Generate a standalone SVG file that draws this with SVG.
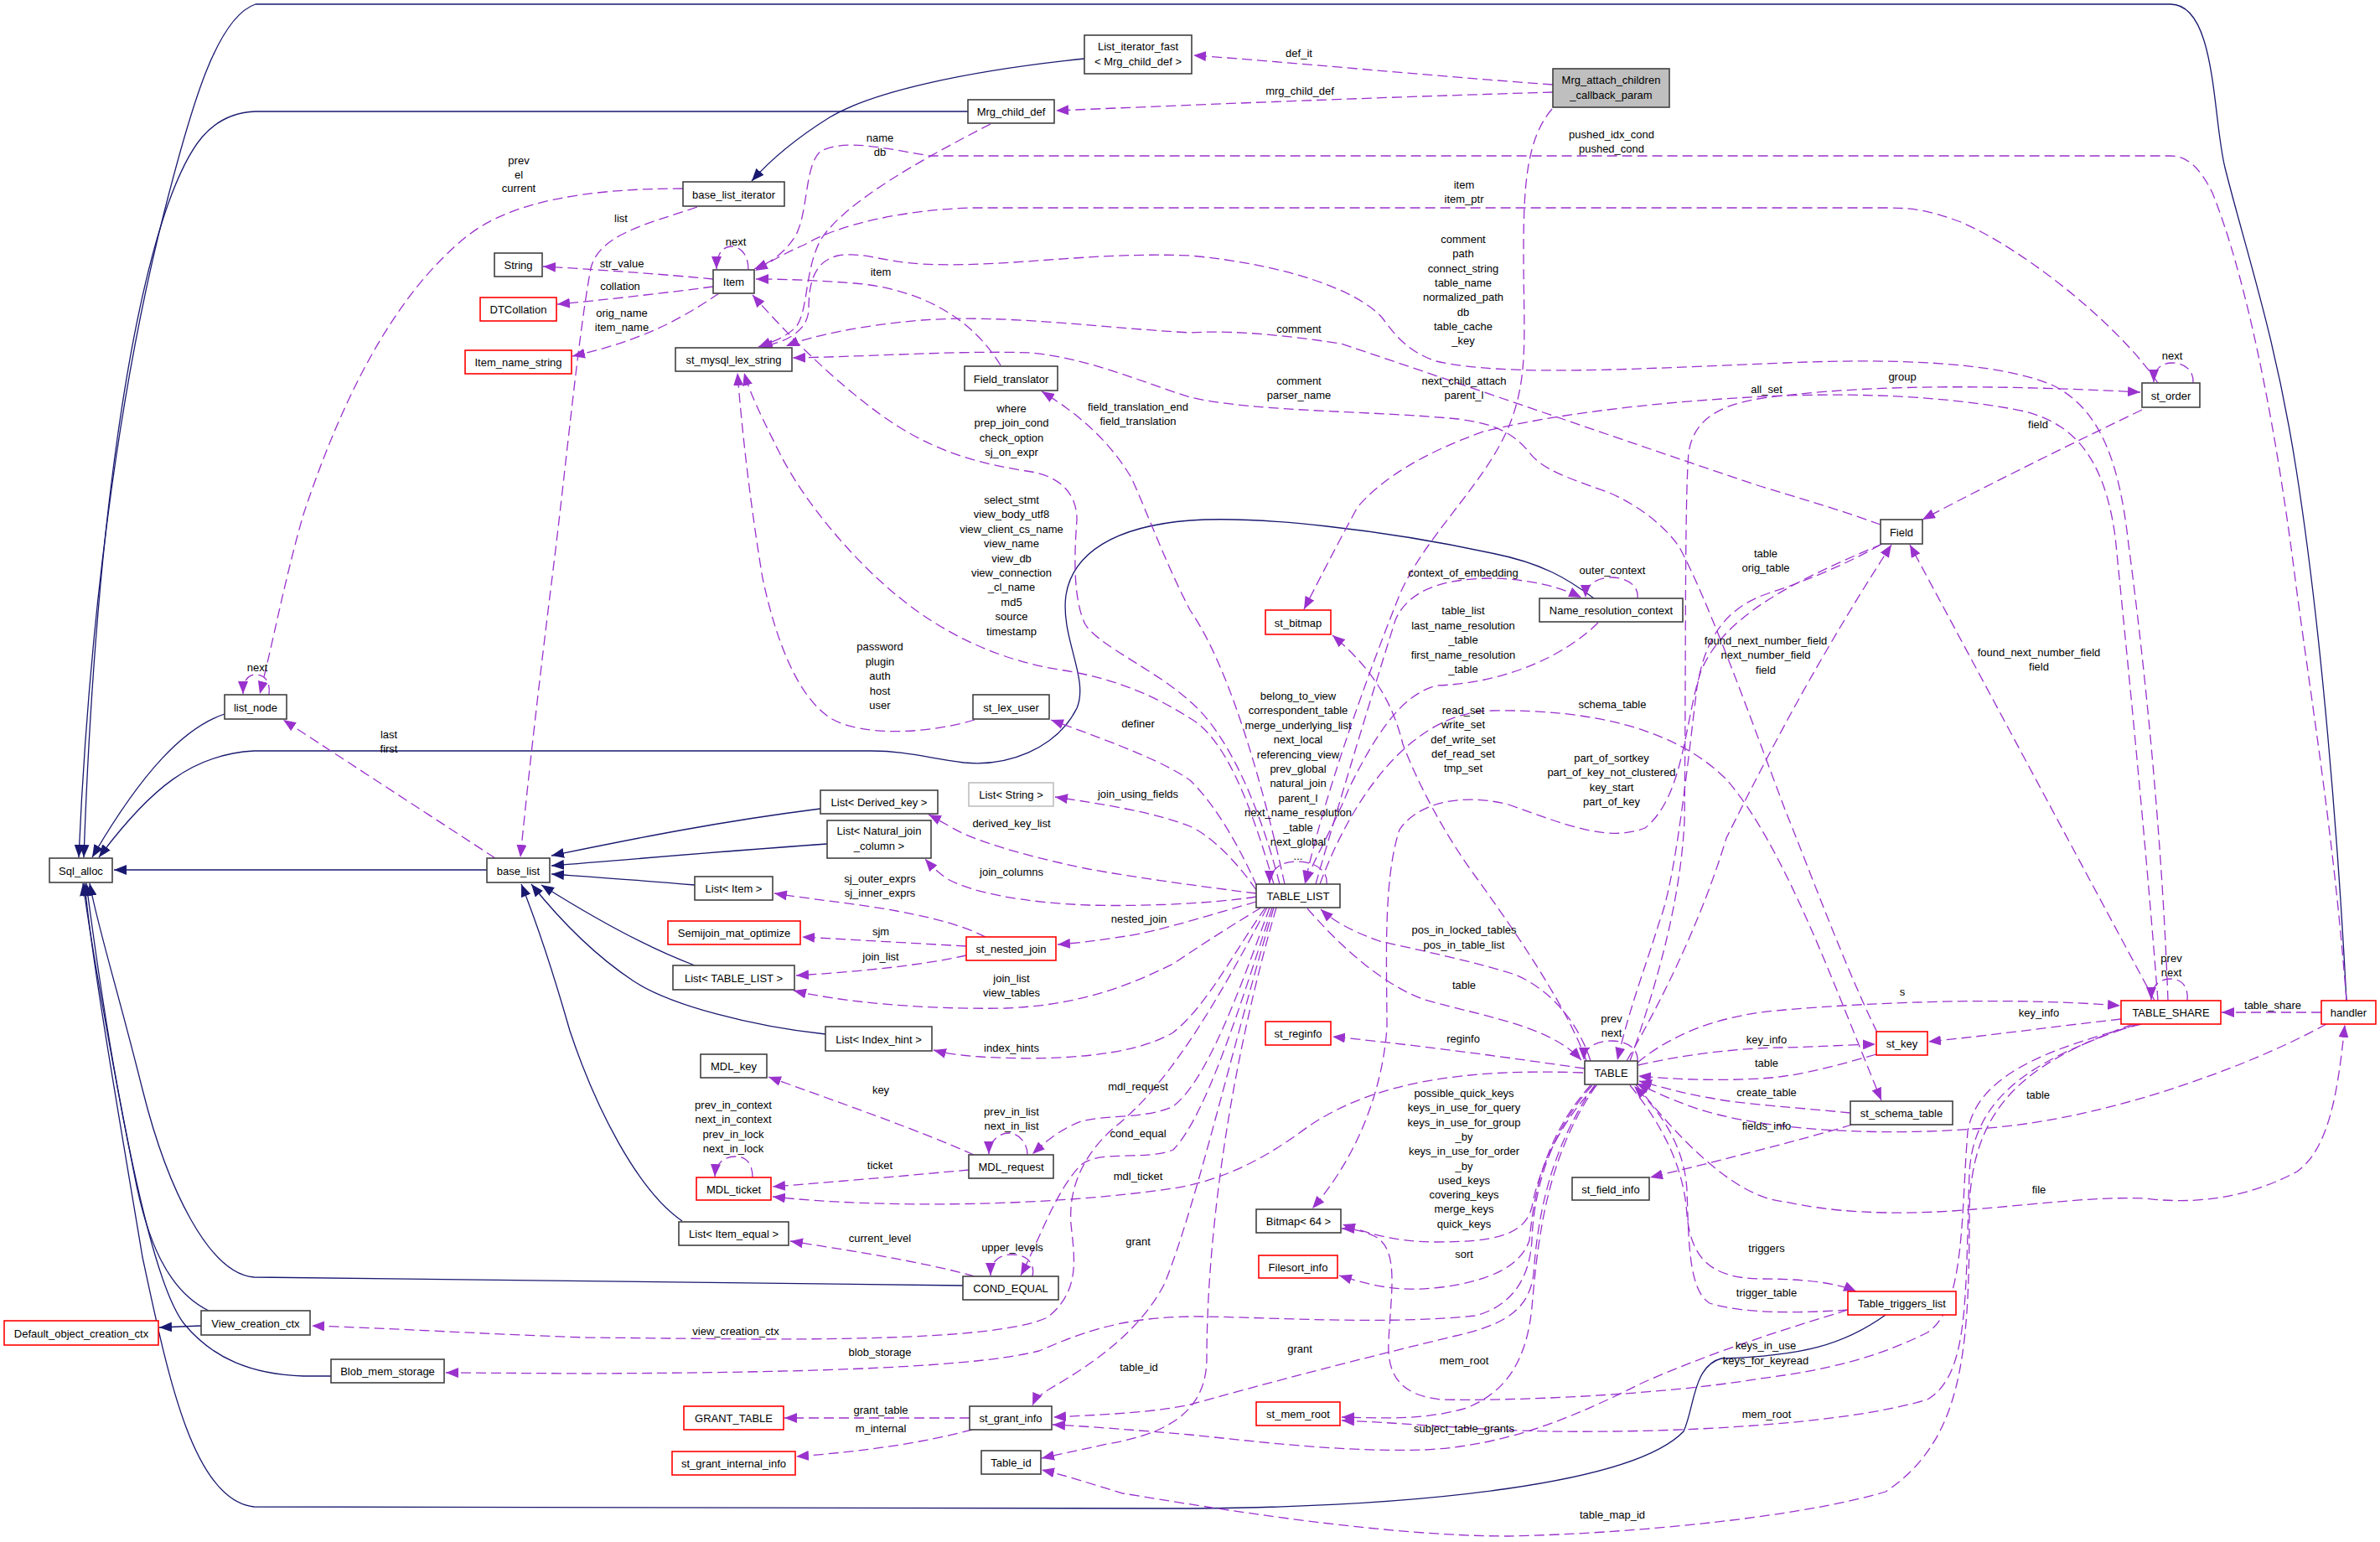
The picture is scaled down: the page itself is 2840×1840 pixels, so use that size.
<svg xmlns="http://www.w3.org/2000/svg" width="2840" height="1840" viewBox="0 0 2840 1840">
<defs>
<marker id="ap" markerUnits="userSpaceOnUse" markerWidth="15" markerHeight="12" viewBox="0 0 15 12" refX="15" refY="6" orient="auto"><path d="M0,0 L15,6 L0,12 z" fill="#9a32cd"/></marker>
<marker id="ab" markerUnits="userSpaceOnUse" markerWidth="15" markerHeight="12" viewBox="0 0 15 12" refX="15" refY="6" orient="auto"><path d="M0,0 L15,6 L0,12 z" fill="#191970"/></marker>
</defs>
<style>
text{font-family:"Liberation Sans",Arial,sans-serif;font-size:13px;text-anchor:middle;fill:#000}
.n rect{fill:#fff;stroke:#404040;stroke-width:1.6}
.r rect{stroke:#ff0000}
.g rect{stroke:#bfbfbf}
.gr rect{fill:#bfbfbf}
.e{fill:none;stroke:#9a32cd;stroke-width:1.3;stroke-dasharray:12,6;marker-end:url(#ap)}
.s{fill:none;stroke:#191970;stroke-width:1.3;marker-end:url(#ab)}
</style>
<rect width="2840" height="1840" fill="#fff"/>
<g id="connectors">
<path class="s" d="M581,1038 L136,1038"/>
<path class="s" d="M268,852 C220,868 170,920 110,1023"/>
<path class="s" d="M1902,714 C1870,690 1840,672 1780,660 C1650,632 1500,615 1420,621 C1330,628 1280,660 1272,710 C1265,760 1300,810 1285,845 C1260,895 1200,915 1150,910 C1110,905 1080,896 1040,896 L303,896 C230,900 180,940 118,1023"/>
<path class="s" d="M1155,133 L305,133 C250,135 225,175 200,245 C160,360 115,600 100,1023"/>
<path class="s" d="M2800,1194 C2790,1000 2770,750 2740,560 C2715,400 2680,300 2655,200 C2640,140 2645,5 2590,5 L305,5 C260,20 230,120 198,245 C150,430 108,700 94,1023"/>
<path class="s" d="M1294,70 C1150,85 1040,110 990,140 C950,165 920,190 897,216"/>
<path class="s" d="M249,1564 C200,1540 175,1480 160,1400 C130,1250 108,1120 99,1054"/>
<path class="s" d="M395,1642 L362,1642 C300,1640 254,1621 220,1580 C180,1530 135,1300 103,1054"/>
<path class="s" d="M1149,1534 L303,1524 C250,1520 200,1420 170,1300 C140,1180 115,1100 107,1054"/>
<path class="s" d="M2250,1569 C2200,1605 2150,1618 2054,1621 C2020,1630 2022,1680 2009,1708 C1950,1770 1700,1798 1420,1800 L303,1798 C230,1790 200,1640 170,1500 C140,1320 110,1150 101,1054"/>
<path class="s" d="M240,1582 L190,1584"/>
<path class="s" d="M979,965 C860,980 760,1000 658,1021"/>
<path class="s" d="M987,1007 C870,1015 760,1025 658,1033"/>
<path class="s" d="M829,1056 C760,1050 700,1046 658,1043"/>
<path class="s" d="M829,1152 C770,1130 700,1090 646,1056"/>
<path class="s" d="M985,1234 C900,1225 800,1200 755,1170 C710,1140 670,1100 634,1055"/>
<path class="s" d="M814,1457 C760,1420 710,1320 680,1230 C660,1160 640,1100 622,1055"/>
<path class="e" d="M1853,101 C1700,90 1550,75 1424,66"/>
<path class="e" d="M1853,110 C1650,116 1450,124 1260,132"/>
<path class="e" d="M1852,130 C1822,165 1818,220 1818,300 C1818,400 1825,450 1800,510 C1770,580 1700,640 1670,710 C1630,810 1580,950 1557,1054"/>
<path class="e" d="M1182,148 C1100,190 1010,240 980,285 C960,320 965,370 950,390 C935,405 915,410 905,414"/>
<path class="e" d="M2800,1194 C2785,1000 2760,850 2740,700 C2715,500 2680,330 2640,230 C2625,200 2610,186 2590,186 L1110,186 C1060,178 1010,165 980,180 C960,195 965,250 950,280 C935,305 915,315 900,321"/>
<path class="e" d="M2575,457 C2530,390 2420,300 2340,265 C2300,250 2280,248 2250,248 L1160,248 C1080,250 1000,268 960,292 C930,305 915,315 901,323"/>
<path class="e" d="M893,322 C893,300 880,294 873,294 C863,294 855,302 855,321"/>
<path class="e" d="M851,333 C800,328 720,322 648,318"/>
<path class="e" d="M851,342 C790,350 720,358 665,363"/>
<path class="e" d="M858,350 C800,390 750,410 683,425"/>
<path class="e" d="M815,225 C700,225 610,240 557,282 C460,360 400,500 362,614 C340,690 325,770 310,828"/>
<path class="e" d="M832,247 C770,268 715,280 705,320 C690,400 675,560 660,680 C645,800 630,930 621,1023"/>
<path class="e" d="M321,829 C323,812 315,805 305,805 C296,805 290,812 290,828"/>
<path class="e" d="M591,1024 L338,859"/>
<path class="e" d="M1194,436 C1160,380 1100,345 1020,338 C970,334 930,333 902,333"/>
<path class="e" d="M1527,1055 C1500,950 1460,870 1420,837 C1380,800 1310,770 1295,745 C1280,715 1282,660 1285,620 C1285,585 1260,568 1231,563 C1180,555 1130,545 1072,509 C1010,470 940,400 898,352"/>
<path class="e" d="M1520,1055 C1490,950 1460,880 1420,857 C1370,825 1320,808 1270,800 C1200,790 1130,760 1072,712 C1020,670 960,600 930,540 C910,500 895,470 888,445"/>
<path class="e" d="M1163,859 C1110,875 1030,880 991,857 C950,830 925,760 910,690 C895,600 885,510 880,445"/>
<path class="e" d="M2587,1194 C2580,1000 2560,800 2540,650 C2530,560 2510,490 2450,460 C2380,430 2250,428 2130,433 C1950,440 1800,450 1714,431 C1680,420 1665,400 1650,380 C1620,345 1530,315 1420,305 C1300,300 1200,320 1100,315 C1050,312 1030,300 1000,305 C970,312 965,340 965,370 C963,395 940,408 907,414"/>
<path class="e" d="M2244,626 C2200,610 2150,595 2100,580 C1950,530 1750,460 1600,410 C1500,395 1450,395 1420,397 C1300,390 1200,375 1100,382 C1030,388 970,400 938,413"/>
<path class="e" d="M2240,1232 C2200,1150 2160,1040 2130,966 C2090,860 2040,720 2004,653 C1985,625 1950,600 1918,587 C1870,570 1840,560 1825,540 C1805,515 1780,505 1740,500 C1640,490 1500,492 1420,474 C1360,455 1300,428 1231,421 C1150,418 1050,425 946,427"/>
<path class="e" d="M1533,1055 C1510,950 1470,800 1420,728 C1390,670 1370,614 1350,570 C1320,520 1280,490 1243,467"/>
<path class="e" d="M1500,1058 C1470,990 1440,950 1420,931 C1390,910 1340,890 1254,859"/>
<path class="e" d="M1499,1062 C1470,1020 1440,995 1420,986 C1380,970 1320,960 1259,951"/>
<path class="e" d="M1499,1066 C1450,1060 1360,1048 1299,1037 C1240,1025 1185,1010 1150,995 C1130,985 1120,978 1108,972"/>
<path class="e" d="M1499,1070 C1450,1078 1360,1082 1299,1080 C1220,1077 1160,1065 1131,1049 C1118,1040 1110,1032 1104,1025"/>
<path class="e" d="M1499,1076 C1450,1090 1380,1112 1344,1117 C1310,1122 1290,1125 1262,1127"/>
<path class="e" d="M1176,1118 C1150,1105 1118,1096 1070,1087 C1020,1078 960,1072 924,1066"/>
<path class="e" d="M1153,1129 L957,1118"/>
<path class="e" d="M1153,1140 C1100,1152 1020,1160 950,1164"/>
<path class="e" d="M1505,1083 C1460,1110 1430,1130 1400,1150 C1340,1180 1280,1200 1200,1203 C1100,1205 1000,1195 947,1182"/>
<path class="e" d="M1510,1083 C1470,1140 1440,1200 1400,1232 C1350,1262 1250,1266 1170,1261 C1140,1259 1125,1256 1114,1253"/>
<path class="e" d="M1515,1083 C1480,1180 1440,1290 1400,1320 C1370,1335 1320,1330 1290,1338 C1260,1350 1245,1365 1232,1377"/>
<path class="e" d="M1226,1378 C1226,1362 1214,1352 1204,1352 C1192,1352 1180,1362 1180,1377"/>
<path class="e" d="M1162,1378 C1100,1350 1000,1315 917,1285"/>
<path class="e" d="M1156,1396 C1080,1403 1000,1410 922,1416"/>
<path class="e" d="M1889,1280 C1750,1275 1640,1290 1560,1345 C1500,1390 1450,1410 1400,1418 C1250,1440 1050,1442 922,1428"/>
<path class="e" d="M898,1405 C898,1388 890,1380 878,1380 C864,1380 854,1388 853,1404"/>
<path class="e" d="M1518,1083 C1480,1200 1440,1330 1400,1372 C1370,1385 1310,1372 1290,1390 C1260,1420 1240,1480 1218,1522"/>
<path class="e" d="M1232,1523 C1236,1505 1222,1497 1208,1497 C1192,1497 1182,1505 1182,1522"/>
<path class="e" d="M1163,1523 C1100,1505 1000,1490 943,1481"/>
<path class="e" d="M1512,1083 C1460,1180 1400,1290 1330,1345 C1290,1380 1275,1420 1278,1461 C1282,1500 1290,1540 1250,1572 C1200,1595 1050,1598 900,1598 L700,1596 C580,1592 470,1585 372,1582"/>
<path class="e" d="M1900,1295 C1850,1350 1830,1420 1828,1480 C1825,1530 1800,1560 1760,1570 C1650,1582 1480,1570 1420,1571 C1330,1572 1280,1595 1240,1612 C1150,1635 900,1638 700,1639 L532,1638"/>
<path class="e" d="M1903,1295 C1850,1370 1835,1450 1830,1520 C1825,1560 1800,1580 1737,1594 C1650,1615 1550,1640 1420,1676 C1380,1685 1320,1688 1257,1691"/>
<path class="e" d="M1905,1295 C1845,1380 1835,1480 1828,1560 C1822,1620 1800,1660 1750,1680 C1700,1695 1650,1692 1601,1691"/>
<path class="e" d="M1898,1295 C1840,1360 1830,1430 1825,1480 C1815,1510 1780,1528 1720,1536 C1670,1542 1640,1535 1598,1522"/>
<path class="e" d="M1905,1295 C1860,1340 1835,1400 1828,1440 C1820,1475 1780,1482 1714,1482 C1660,1482 1630,1470 1602,1461"/>
<path class="e" d="M1891,1275 C1800,1262 1700,1248 1590,1237"/>
<path class="e" d="M1898,1266 C1880,1210 1840,1175 1805,1162 C1760,1148 1700,1135 1646,1123 C1610,1110 1590,1098 1576,1085"/>
<path class="e" d="M1560,1084 C1600,1130 1650,1175 1700,1193 C1780,1215 1850,1225 1887,1265"/>
<path class="e" d="M1954,1266 C1955,1250 1940,1242 1923,1242 C1905,1242 1890,1250 1890,1265"/>
<path class="e" d="M1893,1266 C1870,1200 1800,1100 1760,1045 C1720,990 1690,930 1674,888 C1662,840 1640,800 1590,758"/>
<path class="e" d="M1575,1055 C1610,960 1680,850 1780,848 C1900,846 2000,870 2060,930 C2130,1010 2190,1180 2245,1313"/>
<path class="e" d="M1570,1055 C1600,950 1640,820 1665,740 C1680,705 1720,690 1782,690 C1830,692 1860,700 1887,713"/>
<path class="e" d="M1907,743 C1870,780 1800,815 1714,818 C1670,830 1640,880 1610,940 C1590,990 1565,1030 1558,1054"/>
<path class="e" d="M1954,714 C1956,698 1940,689 1923,689 C1905,689 1892,698 1892,713"/>
<path class="e" d="M1583,1055 C1585,1036 1565,1028 1548,1028 C1530,1028 1515,1036 1515,1054"/>
<path class="e" d="M2575,1194 C2560,1000 2540,800 2524,640 C2510,540 2470,500 2402,488 C2300,470 2200,470 2130,472 C1980,478 1850,495 1770,515 C1700,540 1650,570 1620,605 C1590,660 1570,700 1556,727"/>
<path class="e" d="M1945,1266 C1975,1180 2005,1080 2010,980 C2012,800 2010,600 2015,540 C2022,495 2060,478 2130,472 C2250,458 2400,460 2554,468"/>
<path class="e" d="M2617,457 C2618,440 2605,433 2592,433 C2580,433 2570,440 2570,456"/>
<path class="e" d="M2556,489 C2450,540 2350,590 2294,620"/>
<path class="e" d="M2244,650 C2200,675 2150,695 2110,708 C2060,725 2035,760 2025,820 C2015,900 2000,1050 1980,1100 C1965,1150 1945,1200 1930,1265"/>
<path class="e" d="M1941,1266 C1980,1200 2030,1100 2060,1000 C2100,920 2160,800 2257,650"/>
<path class="e" d="M2571,1194 L2279,650"/>
<path class="e" d="M2610,1194 C2612,1176 2602,1168 2590,1168 C2577,1168 2567,1176 2567,1193"/>
<path class="e" d="M2770,1208 L2651,1208"/>
<path class="e" d="M1954,1268 C2000,1230 2060,1210 2130,1205 C2250,1195 2400,1190 2530,1200"/>
<path class="e" d="M1955,1271 C2010,1258 2080,1250 2130,1250 C2170,1249 2200,1247 2238,1246"/>
<path class="e" d="M2531,1216 C2450,1225 2380,1235 2301,1243"/>
<path class="e" d="M2239,1258 C2180,1275 2140,1285 2100,1287 C2050,1290 2000,1288 1955,1284"/>
<path class="e" d="M2208,1328 C2150,1322 2080,1318 2040,1310 C2010,1305 1985,1298 1956,1290"/>
<path class="e" d="M2210,1342 C2150,1360 2060,1383 1969,1405"/>
<path class="e" d="M2776,1222 C2680,1275 2500,1340 2356,1347 C2250,1355 2130,1350 2050,1330 C2010,1320 1980,1305 1953,1293"/>
<path class="e" d="M1952,1294 C2020,1380 2080,1430 2130,1434 C2180,1445 2250,1452 2356,1443 C2450,1435 2500,1428 2560,1430 C2640,1440 2700,1420 2741,1398 C2780,1370 2790,1300 2798,1223"/>
<path class="e" d="M1945,1295 C1990,1350 2010,1400 2013,1450 C2018,1500 2040,1525 2100,1526 C2150,1526 2190,1530 2215,1541"/>
<path class="e" d="M2205,1563 C2150,1567 2080,1568 2040,1555 C2015,1540 2015,1480 2013,1420 C2010,1370 1985,1330 1950,1296"/>
<path class="e" d="M2205,1563 C2150,1580 2050,1610 1960,1650 C1880,1690 1800,1725 1700,1730 C1600,1733 1500,1720 1420,1712 C1360,1707 1300,1702 1256,1700"/>
<path class="e" d="M2555,1222 C2450,1250 2360,1280 2348,1350 C2340,1450 2345,1560 2300,1590 C2240,1620 2180,1635 2100,1645 C1980,1665 1800,1672 1720,1670 C1670,1665 1655,1640 1657,1600 C1660,1540 1670,1490 1640,1475 C1625,1468 1612,1466 1601,1466"/>
<path class="e" d="M2550,1222 C2440,1260 2355,1300 2350,1400 C2345,1550 2350,1640 2300,1670 C2200,1700 2000,1710 1850,1708 C1750,1706 1680,1698 1601,1695"/>
<path class="e" d="M2545,1222 C2430,1265 2350,1310 2350,1450 C2350,1620 2340,1720 2250,1780 C2150,1810 1950,1830 1800,1833 C1650,1833 1450,1800 1340,1782 C1300,1770 1270,1760 1243,1754"/>
<path class="e" d="M2246,649 C2150,690 2060,730 2030,800 C2010,860 2010,950 1963,988 C1920,1005 1870,985 1800,960 C1740,945 1690,960 1670,990 C1650,1050 1655,1150 1655,1226 C1650,1300 1620,1380 1566,1442"/>
<path class="e" d="M1520,1083 C1470,1250 1430,1430 1390,1531 C1360,1590 1300,1630 1253,1657 C1240,1665 1235,1670 1232,1677"/>
<path class="e" d="M1523,1083 C1460,1300 1440,1500 1440,1620 C1440,1680 1400,1710 1321,1723 C1290,1730 1265,1735 1243,1740"/>
<path class="e" d="M1157,1692 L936,1692"/>
<path class="e" d="M1160,1706 C1100,1722 1030,1732 950,1738"/>
<g id="edge-labels">
<text x="1550" y="68">def_it</text>
<text x="1551" y="113">mrg_child_def</text>
<text x="1923" y="165"><tspan x="1923">pushed_idx_cond</tspan><tspan x="1923" dy="17.3">pushed_cond</tspan></text>
<text x="1050" y="169"><tspan x="1050">name</tspan><tspan x="1050" dy="17.3">db</tspan></text>
<text x="1747" y="225"><tspan x="1747">item</tspan><tspan x="1747" dy="17.3">item_ptr</tspan></text>
<text x="619" y="196"><tspan x="619">prev</tspan><tspan x="619" dy="16.5">el</tspan><tspan x="619" dy="16.5">current</tspan></text>
<text x="741" y="265">list</text>
<text x="1746" y="290"><tspan x="1746">comment</tspan><tspan x="1746" dy="17.3">path</tspan><tspan x="1746" dy="17.3">connect_string</tspan><tspan x="1746" dy="17.3">table_name</tspan><tspan x="1746" dy="17.3">normalized_path</tspan><tspan x="1746" dy="17.3">db</tspan><tspan x="1746" dy="17.3">table_cache</tspan><tspan x="1746" dy="17.3">_key</tspan></text>
<text x="878" y="293">next</text>
<text x="742" y="319">str_value</text>
<text x="1051" y="329">item</text>
<text x="740" y="346">collation</text>
<text x="742" y="378"><tspan x="742">orig_name</tspan><tspan x="742" dy="17.3">item_name</tspan></text>
<text x="1550" y="397">comment</text>
<text x="2592" y="429">next</text>
<text x="2270" y="454">group</text>
<text x="1550" y="459"><tspan x="1550">comment</tspan><tspan x="1550" dy="17.3">parser_name</tspan></text>
<text x="1747" y="459"><tspan x="1747">next_child_attach</tspan><tspan x="1747" dy="17.3">parent_l</tspan></text>
<text x="2108" y="469">all_set</text>
<text x="1207" y="492"><tspan x="1207">where</tspan><tspan x="1207" dy="17.3">prep_join_cond</tspan><tspan x="1207" dy="17.3">check_option</tspan><tspan x="1207" dy="17.3">sj_on_expr</tspan></text>
<text x="1358" y="490"><tspan x="1358">field_translation_end</tspan><tspan x="1358" dy="17.3">field_translation</tspan></text>
<text x="2432" y="511">field</text>
<text x="1207" y="601"><tspan x="1207">select_stmt</tspan><tspan x="1207" dy="17.4">view_body_utf8</tspan><tspan x="1207" dy="17.4">view_client_cs_name</tspan><tspan x="1207" dy="17.4">view_name</tspan><tspan x="1207" dy="17.4">view_db</tspan><tspan x="1207" dy="17.4">view_connection</tspan><tspan x="1207" dy="17.4">_cl_name</tspan><tspan x="1207" dy="17.4">md5</tspan><tspan x="1207" dy="17.4">source</tspan><tspan x="1207" dy="17.4">timestamp</tspan></text>
<text x="2107" y="665"><tspan x="2107">table</tspan><tspan x="2107" dy="17.3">orig_table</tspan></text>
<text x="1746" y="688">context_of_embedding</text>
<text x="1924" y="685">outer_context</text>
<text x="1746" y="733"><tspan x="1746">table_list</tspan><tspan x="1746" dy="17.5">last_name_resolution</tspan><tspan x="1746" dy="17.5">_table</tspan><tspan x="1746" dy="17.5">first_name_resolution</tspan><tspan x="1746" dy="17.5">_table</tspan></text>
<text x="2107" y="769"><tspan x="2107">found_next_number_field</tspan><tspan x="2107" dy="17.3">next_number_field</tspan><tspan x="2107" dy="17.3">field</tspan></text>
<text x="1050" y="776"><tspan x="1050">password</tspan><tspan x="1050" dy="17.5">plugin</tspan><tspan x="1050" dy="17.5">auth</tspan><tspan x="1050" dy="17.5">host</tspan><tspan x="1050" dy="17.5">user</tspan></text>
<text x="2433" y="783"><tspan x="2433">found_next_number_field</tspan><tspan x="2433" dy="17.3">field</tspan></text>
<text x="1549" y="835"><tspan x="1549">belong_to_view</tspan><tspan x="1549" dy="17.4">correspondent_table</tspan><tspan x="1549" dy="17.4">merge_underlying_list</tspan><tspan x="1549" dy="17.4">next_local</tspan><tspan x="1549" dy="17.4">referencing_view</tspan><tspan x="1549" dy="17.4">prev_global</tspan><tspan x="1549" dy="17.4">natural_join</tspan><tspan x="1549" dy="17.4">parent_l</tspan><tspan x="1549" dy="17.4">next_name_resolution</tspan><tspan x="1549" dy="17.4">_table</tspan><tspan x="1549" dy="17.4">next_global</tspan><tspan x="1549" dy="17.4">...</tspan></text>
<text x="1924" y="845">schema_table</text>
<text x="1746" y="852"><tspan x="1746">read_set</tspan><tspan x="1746" dy="17.3">write_set</tspan><tspan x="1746" dy="17.3">def_write_set</tspan><tspan x="1746" dy="17.3">def_read_set</tspan><tspan x="1746" dy="17.3">tmp_set</tspan></text>
<text x="1358" y="868">definer</text>
<text x="464" y="881"><tspan x="464">last</tspan><tspan x="464" dy="16.5">first</tspan></text>
<text x="307" y="801">next</text>
<text x="1923" y="909"><tspan x="1923">part_of_sortkey</tspan><tspan x="1923" dy="17.3">part_of_key_not_clustered</tspan><tspan x="1923" dy="17.3">key_start</tspan><tspan x="1923" dy="17.3">part_of_key</tspan></text>
<text x="1358" y="952">join_using_fields</text>
<text x="1207" y="987">derived_key_list</text>
<text x="1207" y="1045">join_columns</text>
<text x="1050" y="1053"><tspan x="1050">sj_outer_exprs</tspan><tspan x="1050" dy="17.3">sj_inner_exprs</tspan></text>
<text x="1359" y="1101">nested_join</text>
<text x="1747" y="1114"><tspan x="1747">pos_in_locked_tables</tspan><tspan x="1747" dy="17.5">pos_in_table_list</tspan></text>
<text x="1051" y="1116">sjm</text>
<text x="1051" y="1146">join_list</text>
<text x="2591" y="1148"><tspan x="2591">prev</tspan><tspan x="2591" dy="16.5">next</tspan></text>
<text x="1207" y="1172"><tspan x="1207">join_list</tspan><tspan x="1207" dy="17.3">view_tables</tspan></text>
<text x="1747" y="1180">table</text>
<text x="2270" y="1188">s</text>
<text x="2712" y="1204">table_share</text>
<text x="2433" y="1213">key_info</text>
<text x="1923" y="1220"><tspan x="1923">prev</tspan><tspan x="1923" dy="17">next</tspan></text>
<text x="1746" y="1244">reginfo</text>
<text x="2108" y="1245">key_info</text>
<text x="1207" y="1255">index_hints</text>
<text x="2108" y="1273">table</text>
<text x="1358" y="1301">mdl_request</text>
<text x="1051" y="1305">key</text>
<text x="2108" y="1308">create_table</text>
<text x="1747" y="1309"><tspan x="1747">possible_quick_keys</tspan><tspan x="1747" dy="17.3">keys_in_use_for_query</tspan><tspan x="1747" dy="17.3">keys_in_use_for_group</tspan><tspan x="1747" dy="17.3">_by</tspan><tspan x="1747" dy="17.3">keys_in_use_for_order</tspan><tspan x="1747" dy="17.3">_by</tspan><tspan x="1747" dy="17.3">used_keys</tspan><tspan x="1747" dy="17.3">covering_keys</tspan><tspan x="1747" dy="17.3">merge_keys</tspan><tspan x="1747" dy="17.3">quick_keys</tspan></text>
<text x="2432" y="1311">table</text>
<text x="1207" y="1331"><tspan x="1207">prev_in_list</tspan><tspan x="1207" dy="17.3">next_in_list</tspan></text>
<text x="875" y="1323"><tspan x="875">prev_in_context</tspan><tspan x="875" dy="17.3">next_in_context</tspan><tspan x="875" dy="17.3">prev_in_lock</tspan><tspan x="875" dy="17.3">next_in_lock</tspan></text>
<text x="2108" y="1348">fields_info</text>
<text x="1358" y="1357">cond_equal</text>
<text x="1050" y="1395">ticket</text>
<text x="1358" y="1408">mdl_ticket</text>
<text x="2433" y="1424">file</text>
<text x="1050" y="1482">current_level</text>
<text x="1358" y="1486">grant</text>
<text x="1208" y="1493">upper_levels</text>
<text x="2108" y="1494">triggers</text>
<text x="1747" y="1501">sort</text>
<text x="2108" y="1547">trigger_table</text>
<text x="878" y="1593">view_creation_ctx</text>
<text x="2107" y="1610"><tspan x="2107">keys_in_use</tspan><tspan x="2107" dy="17.5">keys_for_keyread</tspan></text>
<text x="1551" y="1614">grant</text>
<text x="1050" y="1618">blob_storage</text>
<text x="1747" y="1628">mem_root</text>
<text x="1359" y="1636">table_id</text>
<text x="1051" y="1687">grant_table</text>
<text x="2108" y="1692">mem_root</text>
<text x="1051" y="1709">m_internal</text>
<text x="1747" y="1709">subject_table_grants</text>
<text x="1924" y="1812">table_map_id</text>
</g>
</g>
<g id="node-Mrg_attach_children_callback_param" class="n gr"><rect x="1853" y="82" width="139" height="46"/><text x="1922.5" y="100">Mrg_attach_children</text><text x="1922.5" y="118">_callback_param</text></g>
<g id="node-List_iterator_fast" class="n"><rect x="1294" y="42" width="128" height="46"/><text x="1358" y="60">List_iterator_fast</text><text x="1358" y="78">&lt; Mrg_child_def &gt;</text></g>
<g id="node-Mrg_child_def" class="n"><rect x="1155" y="119" width="103" height="28"/><text x="1206.5" y="138">Mrg_child_def</text></g>
<g id="node-base_list_iterator" class="n"><rect x="815" y="217" width="121" height="29"/><text x="875.5" y="236.5">base_list_iterator</text></g>
<g id="node-Item" class="n"><rect x="851" y="322" width="49" height="28"/><text x="875.5" y="341">Item</text></g>
<g id="node-String" class="n"><rect x="590" y="302" width="57" height="28"/><text x="618.5" y="321">String</text></g>
<g id="node-DTCollation" class="n r"><rect x="573" y="355" width="91" height="28"/><text x="618.5" y="374">DTCollation</text></g>
<g id="node-Item_name_string" class="n r"><rect x="555" y="418" width="127" height="28"/><text x="618.5" y="437">Item_name_string</text></g>
<g id="node-st_mysql_lex_string" class="n"><rect x="806" y="415" width="139" height="28"/><text x="875.5" y="434">st_mysql_lex_string</text></g>
<g id="node-Field_translator" class="n"><rect x="1151" y="437" width="111" height="29"/><text x="1206.5" y="456.5">Field_translator</text></g>
<g id="node-st_order" class="n"><rect x="2556" y="457" width="69" height="29"/><text x="2590.5" y="476.5">st_order</text></g>
<g id="node-list_node" class="n"><rect x="268" y="829" width="74" height="29"/><text x="305" y="848.5">list_node</text></g>
<g id="node-Sql_alloc" class="n"><rect x="59" y="1024" width="75" height="29"/><text x="96.5" y="1043.5">Sql_alloc</text></g>
<g id="node-base_list" class="n"><rect x="581" y="1024" width="75" height="29"/><text x="618.5" y="1043.5">base_list</text></g>
<g id="node-st_lex_user" class="n"><rect x="1161" y="829" width="91" height="29"/><text x="1206.5" y="848.5">st_lex_user</text></g>
<g id="node-List_Derived_key" class="n"><rect x="979" y="943" width="140" height="28"/><text x="1049" y="962">List&lt; Derived_key &gt;</text></g>
<g id="node-List_Natural_join_column" class="n"><rect x="987" y="979" width="124" height="45"/><text x="1049" y="996">List&lt; Natural_join</text><text x="1049" y="1014">_column &gt;</text></g>
<g id="node-List_String" class="n g"><rect x="1156" y="934" width="101" height="28"/><text x="1206.5" y="953">List&lt; String &gt;</text></g>
<g id="node-List_Item" class="n"><rect x="829" y="1046" width="93" height="28"/><text x="875.5" y="1065">List&lt; Item &gt;</text></g>
<g id="node-Semijoin_mat_optimize" class="n r"><rect x="797" y="1099" width="158" height="28"/><text x="876" y="1118">Semijoin_mat_optimize</text></g>
<g id="node-st_nested_join" class="n r"><rect x="1153" y="1118" width="107" height="28"/><text x="1206.5" y="1137">st_nested_join</text></g>
<g id="node-List_TABLE_LIST" class="n"><rect x="803" y="1152" width="145" height="29"/><text x="875.5" y="1171.5">List&lt; TABLE_LIST &gt;</text></g>
<g id="node-st_bitmap" class="n r"><rect x="1510" y="728" width="78" height="29"/><text x="1549" y="747.5">st_bitmap</text></g>
<g id="node-Name_resolution_context" class="n"><rect x="1837" y="714" width="171" height="28"/><text x="1922.5" y="733">Name_resolution_context</text></g>
<g id="node-TABLE_LIST" class="n"><rect x="1499" y="1055" width="100" height="28"/><text x="1549" y="1074">TABLE_LIST</text></g>
<g id="node-Field" class="n"><rect x="2244" y="620" width="50" height="29"/><text x="2269" y="639.5">Field</text></g>
<g id="node-TABLE_SHARE" class="n r"><rect x="2531" y="1194" width="119" height="28"/><text x="2590.5" y="1213">TABLE_SHARE</text></g>
<g id="node-handler" class="n r"><rect x="2770" y="1194" width="65" height="28"/><text x="2802.5" y="1213">handler</text></g>
<g id="node-Default_object_creation_ctx" class="n r"><rect x="5" y="1576" width="184" height="29"/><text x="97" y="1595.5">Default_object_creation_ctx</text></g>
<g id="node-View_creation_ctx" class="n"><rect x="240" y="1564" width="130" height="29"/><text x="305" y="1583.5">View_creation_ctx</text></g>
<g id="node-Blob_mem_storage" class="n"><rect x="395" y="1622" width="135" height="28"/><text x="462.5" y="1641">Blob_mem_storage</text></g>
<g id="node-List_Index_hint" class="n"><rect x="985" y="1225" width="127" height="29"/><text x="1048.5" y="1244.5">List&lt; Index_hint &gt;</text></g>
<g id="node-MDL_key" class="n"><rect x="836" y="1258" width="79" height="28"/><text x="875.5" y="1277">MDL_key</text></g>
<g id="node-MDL_ticket" class="n r"><rect x="831" y="1405" width="89" height="27"/><text x="875.5" y="1423.5">MDL_ticket</text></g>
<g id="node-MDL_request" class="n"><rect x="1156" y="1378" width="101" height="28"/><text x="1206.5" y="1397">MDL_request</text></g>
<g id="node-List_Item_equal" class="n"><rect x="810" y="1458" width="131" height="28"/><text x="875.5" y="1477">List&lt; Item_equal &gt;</text></g>
<g id="node-COND_EQUAL" class="n"><rect x="1149" y="1523" width="114" height="28"/><text x="1206" y="1542">COND_EQUAL</text></g>
<g id="node-GRANT_TABLE" class="n r"><rect x="816" y="1678" width="119" height="28"/><text x="875.5" y="1697">GRANT_TABLE</text></g>
<g id="node-st_grant_info" class="n"><rect x="1157" y="1678" width="98" height="28"/><text x="1206" y="1697">st_grant_info</text></g>
<g id="node-st_grant_internal_info" class="n r"><rect x="802" y="1732" width="147" height="28"/><text x="875.5" y="1751">st_grant_internal_info</text></g>
<g id="node-Table_id" class="n"><rect x="1171" y="1731" width="71" height="28"/><text x="1206.5" y="1750">Table_id</text></g>
<g id="node-st_reginfo" class="n r"><rect x="1510" y="1219" width="78" height="28"/><text x="1549" y="1238">st_reginfo</text></g>
<g id="node-TABLE" class="n"><rect x="1891" y="1266" width="63" height="28"/><text x="1922.5" y="1285">TABLE</text></g>
<g id="node-Bitmap_64" class="n"><rect x="1499" y="1443" width="101" height="28"/><text x="1549.5" y="1462">Bitmap&lt; 64 &gt;</text></g>
<g id="node-Filesort_info" class="n r"><rect x="1502" y="1498" width="94" height="27"/><text x="1549" y="1516.5">Filesort_info</text></g>
<g id="node-st_field_info" class="n"><rect x="1876" y="1405" width="92" height="27"/><text x="1922" y="1423.5">st_field_info</text></g>
<g id="node-st_mem_root" class="n r"><rect x="1499" y="1673" width="100" height="28"/><text x="1549" y="1692">st_mem_root</text></g>
<g id="node-st_key" class="n r"><rect x="2239" y="1231" width="61" height="28"/><text x="2269.5" y="1250">st_key</text></g>
<g id="node-st_schema_table" class="n"><rect x="2208" y="1314" width="122" height="28"/><text x="2269" y="1333">st_schema_table</text></g>
<g id="node-Table_triggers_list" class="n r"><rect x="2205" y="1541" width="129" height="28"/><text x="2269.5" y="1560">Table_triggers_list</text></g>
</svg>
